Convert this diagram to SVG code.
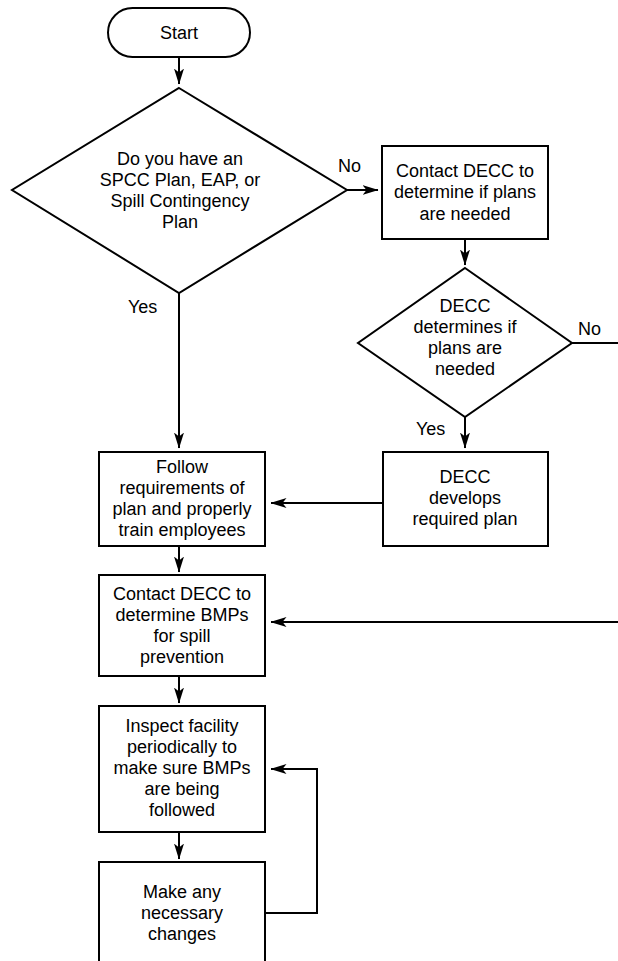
<svg xmlns="http://www.w3.org/2000/svg" width="618" height="961" viewBox="0 0 618 961">
  <style>
    .shape { fill: #ffffff; stroke: #000000; stroke-width: 2; }
    .wire { fill: none; stroke: #000000; stroke-width: 2; }
    text { font-family: "Liberation Sans", Arial, sans-serif; font-size: 18px; fill: #000000; }
    .c { text-anchor: middle; }
  </style>
  <defs>
    <marker id="arrow" viewBox="0 0 16 10" refX="15.5" refY="5" markerWidth="16" markerHeight="10" markerUnits="userSpaceOnUse" orient="auto">
      <path d="M0,0 L16,5 L0,10 L4,5 Z" fill="#000000"/>
    </marker>
  </defs>

  <rect width="618" height="961" fill="#ffffff"/>

  <g id="connectors">
    <line class="wire" x1="179" y1="57" x2="179" y2="84" marker-end="url(#arrow)"/>
    <line class="wire" x1="347" y1="190" x2="378" y2="190" marker-end="url(#arrow)"/>
    <line class="wire" x1="465" y1="239" x2="465" y2="265" marker-end="url(#arrow)"/>
    <line class="wire" x1="572" y1="343" x2="618" y2="343"/>
    <line class="wire" x1="465" y1="417" x2="465" y2="448" marker-end="url(#arrow)"/>
    <line class="wire" x1="179" y1="293" x2="179" y2="448" marker-end="url(#arrow)"/>
    <line class="wire" x1="383" y1="503" x2="271" y2="503" marker-end="url(#arrow)"/>
    <line class="wire" x1="179" y1="546" x2="179" y2="572" marker-end="url(#arrow)"/>
    <line class="wire" x1="618" y1="622" x2="271" y2="622" marker-end="url(#arrow)"/>
    <line class="wire" x1="179" y1="676" x2="179" y2="703" marker-end="url(#arrow)"/>
    <line class="wire" x1="179" y1="832" x2="179" y2="859" marker-end="url(#arrow)"/>
    <polyline class="wire" points="265,913 317,913 317,769 271,769" marker-end="url(#arrow)"/>
  </g>

  <g id="start">
    <rect class="shape" x="108" y="8" width="142" height="49" rx="24.5" ry="24.5"/>
    <text class="c" x="179" y="39">Start</text>
  </g>

  <g id="have-plan">
    <polygon class="shape" points="179,88 347,190 179,293 12,190"/>
    <text class="c" x="180" y="165">Do you have an</text>
    <text class="c" x="180" y="186">SPCC Plan, EAP, or</text>
    <text class="c" x="180" y="207">Spill Contingency</text>
    <text class="c" x="180" y="228">Plan</text>
  </g>

  <g id="label-no-1"><text x="338" y="172">No</text></g>
  <g id="label-yes-1"><text x="128" y="313">Yes</text></g>

  <g id="contact-plans">
    <rect class="shape" x="382" y="146" width="166" height="93"/>
    <text class="c" x="465" y="177">Contact DECC to</text>
    <text class="c" x="465" y="198">determine if plans</text>
    <text class="c" x="465" y="220">are needed</text>
  </g>

  <g id="decc-determines">
    <polygon class="shape" points="465,268 572,343 465,417 358,343"/>
    <text class="c" x="465" y="312">DECC</text>
    <text class="c" x="465" y="333">determines if</text>
    <text class="c" x="465" y="354">plans are</text>
    <text class="c" x="465" y="375">needed</text>
  </g>

  <g id="label-no-2"><text x="578" y="335">No</text></g>
  <g id="label-yes-2"><text x="416" y="435">Yes</text></g>

  <g id="decc-develops">
    <rect class="shape" x="383" y="452" width="165" height="94"/>
    <text class="c" x="465" y="483">DECC</text>
    <text class="c" x="465" y="504">develops</text>
    <text class="c" x="465" y="525">required plan</text>
  </g>

  <g id="follow">
    <rect class="shape" x="99" y="452" width="166" height="94"/>
    <text class="c" x="182" y="473">Follow</text>
    <text class="c" x="182" y="494">requirements of</text>
    <text class="c" x="182" y="515">plan and properly</text>
    <text class="c" x="182" y="536">train employees</text>
  </g>

  <g id="contact-bmps">
    <rect class="shape" x="99" y="575" width="166" height="101"/>
    <text class="c" x="182" y="600">Contact DECC to</text>
    <text class="c" x="182" y="621">determine BMPs</text>
    <text class="c" x="182" y="642">for spill</text>
    <text class="c" x="182" y="663">prevention</text>
  </g>

  <g id="inspect">
    <rect class="shape" x="99" y="706" width="166" height="126"/>
    <text class="c" x="182" y="732">Inspect facility</text>
    <text class="c" x="182" y="753">periodically to</text>
    <text class="c" x="182" y="774">make sure BMPs</text>
    <text class="c" x="182" y="795">are being</text>
    <text class="c" x="182" y="816">followed</text>
  </g>

  <g id="changes">
    <rect class="shape" x="99" y="862" width="166" height="110"/>
    <text class="c" x="182" y="898">Make any</text>
    <text class="c" x="182" y="919">necessary</text>
    <text class="c" x="182" y="940">changes</text>
  </g>
</svg>
